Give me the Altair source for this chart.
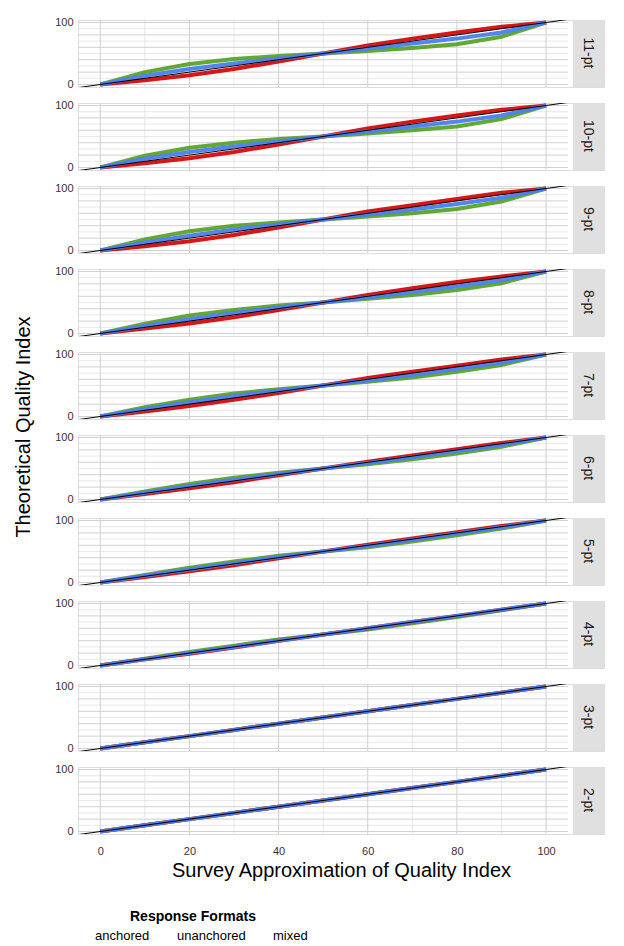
import altair as alt
import pandas as pd

facets = ["11-pt", "10-pt", "9-pt", "8-pt", "7-pt", "6-pt", "5-pt", "4-pt", "3-pt", "2-pt"]
xs = [0, 10, 20, 30, 40, 50, 60, 70, 80, 90, 100]
unanchored = {
    "11-pt": [0, 20, 33, 41, 46, 50, 54, 59, 65, 77, 100],
    "10-pt": [0, 19, 32, 40, 46, 50, 55, 60, 66, 78, 100],
    "9-pt": [0, 18, 31, 40, 45, 50, 55, 60, 67, 79, 100],
    "8-pt": [0, 16, 29, 38, 45, 50, 56, 62, 70, 81, 100],
    "7-pt": [0, 15, 27, 37, 44, 50, 56, 63, 72, 83, 100],
    "6-pt": [0, 13, 25, 35, 43, 50, 57, 65, 74, 85, 100],
    "5-pt": [0, 12, 24, 34, 43, 50, 57, 66, 76, 87, 100],
    "4-pt": [0, 11, 22, 32, 42, 50, 58, 68, 78, 89, 100],
    "3-pt": [0, 10, 20, 30, 40, 50, 60, 70, 80, 90, 100],
    "2-pt": [0, 10, 20, 30, 40, 50, 60, 70, 80, 90, 100],
}
mixed = {
    "11-pt": [0, 14, 25, 34, 42, 50, 58, 66, 74, 84, 100],
    "10-pt": [0, 14, 25, 34, 42, 50, 58, 66, 74, 84, 100],
    "9-pt": [0, 13, 24, 34, 42, 50, 58, 66, 75, 85, 100],
    "8-pt": [0, 12, 23, 33, 42, 50, 58, 67, 76, 86, 100],
    "7-pt": [0, 12, 23, 33, 42, 50, 58, 67, 77, 87, 100],
    "6-pt": [0, 11, 22, 32, 41, 50, 59, 68, 78, 88, 100],
    "5-pt": [0, 11, 21, 31, 41, 50, 59, 69, 79, 89, 100],
    "4-pt": [0, 10, 20, 30, 40, 50, 60, 70, 80, 90, 100],
    "3-pt": [0, 10, 20, 30, 40, 50, 60, 70, 80, 90, 100],
    "2-pt": [0, 10, 20, 30, 40, 50, 60, 70, 80, 90, 100],
}
anchored = {
    "11-pt": [0, 7, 15, 25, 37, 50, 63, 74, 84, 93, 100],
    "10-pt": [0, 7, 15, 25, 37, 50, 63, 74, 84, 93, 100],
    "9-pt": [0, 7, 15, 25, 37, 50, 63, 73, 83, 93, 100],
    "8-pt": [0, 8, 16, 26, 38, 50, 62, 73, 83, 92, 100],
    "7-pt": [0, 8, 17, 27, 38, 50, 62, 72, 82, 92, 100],
    "6-pt": [0, 9, 18, 28, 39, 50, 61, 71, 81, 91, 100],
    "5-pt": [0, 9, 18, 28, 39, 50, 61, 71, 81, 91, 100],
    "4-pt": [0, 10, 19, 29, 40, 50, 60, 70, 80, 90, 100],
    "3-pt": [0, 10, 20, 30, 40, 50, 60, 70, 80, 90, 100],
    "2-pt": [0, 10, 20, 30, 40, 50, 60, 70, 80, 90, 100],
}
formats = ["anchored", "unanchored", "mixed"]
colors = ["#d40b0b", "#5ba32a", "#4a7ef0"]
grid_x = [0, 10, 20, 30, 40, 50, 60, 70, 80, 90, 100]
grid_y = [0, 10, 20, 30, 40, 50, 60, 70, 80, 90, 100]

rows = []
series = {"unanchored": unanchored, "anchored": anchored, "mixed": mixed}
for f in facets:
    for name, d in series.items():
        for x, y in zip(xs, d[f]):
            rows.append(dict(kind="curve", facet=f, fmt=name, x=x, y=y))
    for g in grid_x:
        rows.append(dict(kind="gx", facet=f, x=g, major=(g % 20 == 0)))
    for g in grid_y:
        rows.append(dict(kind="gy", facet=f, y=g, major=(g % 20 == 0)))
    rows.append(dict(kind="diag", facet=f, x=-5, y=-5))
    rows.append(dict(kind="diag", facet=f, x=105, y=105))
    rows.append(dict(kind="strip", facet=f, x=106, x2=113, y=-4, y2=104))
df = pd.DataFrame(rows)

xs_ = alt.Scale(domain=[-5, 113], nice=False, zero=False)
ys_ = alt.Scale(domain=[-4, 104], nice=False, zero=False)
X = alt.X("x:Q", scale=xs_, title="Survey Approximation of Quality Index",
          axis=alt.Axis(values=[0, 20, 40, 60, 80, 100], grid=False, domain=False,
                        ticks=False, labelFontSize=11, titleFontSize=20, titleFontWeight="normal",
                        labelColor="#333", titleColor="#000", labelPadding=4))
Y = alt.Y("y:Q", scale=ys_, title=None,
          axis=alt.Axis(values=[0, 20, 40, 60, 80, 100], grid=False, domain=False,
                        ticks=False, labelFontSize=11, labelColor="#333",
                        labelOverlap=False, labelPadding=4))

base = alt.Chart()
gx = base.mark_rule().encode(
    x=alt.X("x:Q", scale=xs_), y=alt.value(0), y2=alt.value(67),
    strokeWidth=alt.condition("datum.major", alt.value(1), alt.value(0.5)),
    color=alt.value("#d0d0d0")).transform_filter("datum.kind=='gx'")
gy = base.mark_rule().encode(
    y=alt.Y("y:Q", scale=ys_), x=alt.value(0), x2=alt.value(490),
    strokeWidth=alt.condition("datum.major", alt.value(1), alt.value(0.5)),
    color=alt.value("#d0d0d0")).transform_filter("datum.kind=='gy'")
curves = base.mark_line(strokeWidth=4, opacity=0.95).encode(
    x=X, y=Y,
    color=alt.Color("fmt:N", scale=alt.Scale(domain=formats, range=colors),
                    legend=alt.Legend(title="Response Formats", orient="bottom", direction="horizontal",
                                      titleAnchor="middle", symbolType="circle", symbolSize=120,
                                      labelFontSize=13, titleFontSize=14, symbolOpacity=1,
                                      symbolStrokeWidth=0, titleOrient="top", offset=30)),
    detail="fmt:N", order="x:Q").transform_filter("datum.kind=='curve'")
diag = base.mark_line(color="black", strokeWidth=1, clip=True).encode(
    x=alt.X("x:Q", scale=xs_), y=alt.Y("y:Q", scale=ys_)).transform_filter("datum.kind=='diag'")
strip = base.mark_rect(color="#e0e0e0").encode(
    x=alt.X("x:Q", scale=xs_), x2="x2:Q", y=alt.Y("y:Q", scale=ys_), y2="y2:Q"
).transform_filter("datum.kind=='strip'")
txt = base.mark_text(angle=90, fontSize=14, color="#1a1a1a").encode(
    x=alt.value(510), y=alt.value(33), text="facet:N").transform_filter("datum.kind=='strip'")

chart = alt.layer(gx, gy, curves, diag, strip, txt, data=df).properties(
    width=526, height=67
).facet(
    row=alt.Row("facet:N", sort=facets,
                header=alt.Header(title="Theoretical Quality Index", titleOrient="left",
                                  titleFontSize=20, titleFontWeight="normal", labels=False,
                                  titleColor="#000")),
    spacing=2
).configure_view(stroke=None).configure(font="Liberation Sans")

chart.save("out.html", embed_options={"renderer": "svg", "actions": False})
